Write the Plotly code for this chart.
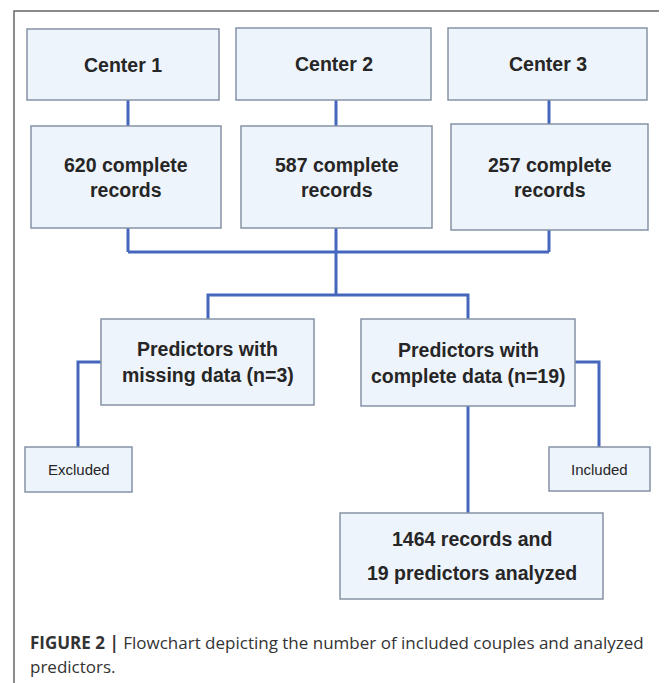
import plotly.graph_objects as go

# ---- content ----
center_labels = ["Center 1", "Center 2", "Center 3"]
record_counts = [620, 587, 257]
missing_n = 3
complete_n = 19
total_records = sum(record_counts)  # 1464
excluded_label = "Excluded"
included_label = "Included"
caption_bold = "FIGURE 2 |"
caption_line1 = " Flowchart depicting the number of included couples and analyzed"
caption_line2 = "predictors."

# ---- layout geometry (window pixels) ----
W, H = 667, 683
OFF = 8  # default page body margin
center_boxes = [(27, 29, 219, 100), (236, 28, 431, 100), (448, 28, 647, 100)]
record_boxes = [(31, 126, 221, 228), (241, 126, 432, 228), (451, 124, 648, 230)]
col_x = [128, 336, 549]
missing_box = (101, 319, 314, 405)
complete_box = (361, 319, 575, 406)
excluded_box = (25, 447, 132, 492)
included_box = (549, 447, 650, 491)
final_box = (340, 513, 603, 599)

BOX_FILL = "#eef4fb"
BOX_LINE = "#8592a6"
CONN = "#4467bd"
TXT = "#262626"
BOXFONT = "Liberation Sans, Arial"

fig = go.Figure()
shapes = []
annotations = []

def line(points):
    d = "M " + " L ".join(f"{x},{y}" for x, y in points)
    shapes.append(dict(type="path", path=d, xref="x", yref="y",
                       line=dict(color=CONN, width=3), layer="below"))

def box(b):
    shapes.append(dict(type="rect", x0=b[0], y0=b[1], x1=b[2], y1=b[3],
                       xref="x", yref="y", fillcolor=BOX_FILL,
                       line=dict(color=BOX_LINE, width=1.5), layer="above"))

def text(x, y, s, size, bold=True, family=BOXFONT, anchor="center"):
    annotations.append(dict(x=x, y=y, xref="x", yref="y", showarrow=False,
                            text=(f"<b>{s}</b>" if bold else s),
                            font=dict(family=family, size=size, color=TXT),
                            xanchor=anchor, yanchor="middle"))

# connectors
for cx, cb, rb in zip(col_x, center_boxes, record_boxes):
    line([(cx, cb[3]), (cx, rb[1])])
    line([(cx, rb[3]), (cx, 252)])
line([(col_x[0], 252), (col_x[2], 252)])
line([(col_x[1], 252), (col_x[1], 295)])
line([(208, 319), (208, 295), (468, 295), (468, 319)])
line([(missing_box[0], 362), (78, 362), (78, excluded_box[1])])
line([(complete_box[2], 362), (599, 362), (599, included_box[1])])
line([(468, complete_box[3]), (468, final_box[1])])

# boxes
for b in center_boxes + record_boxes + [missing_box, complete_box, excluded_box, included_box, final_box]:
    box(b)

def cx_(b): return (b[0] + b[2]) / 2
def cy_(b): return (b[1] + b[3]) / 2

FS = 19.5
for lab, b in zip(center_labels, center_boxes):
    text(cx_(b), cy_(b), lab, FS)
for n, b in zip(record_counts, record_boxes):
    text(cx_(b), cy_(b) - 12.5, f"{n} complete", FS)
    text(cx_(b), cy_(b) + 12.5, "records", FS)

text(cx_(missing_box), cy_(missing_box) - 13, "Predictors with", FS)
text(cx_(missing_box), cy_(missing_box) + 13, f"missing data (n={missing_n})", FS)
text(cx_(complete_box), cy_(complete_box) - 13, "Predictors with", FS)
text(cx_(complete_box), cy_(complete_box) + 13, f"complete data (n={complete_n})", FS)

text(cx_(excluded_box), cy_(excluded_box), excluded_label, 15, bold=False)
text(cx_(included_box), cy_(included_box), included_label, 15, bold=False)

text(cx_(final_box), cy_(final_box) - 17, f"{total_records} records and", FS)
text(cx_(final_box), cy_(final_box) + 17, f"{complete_n} predictors analyzed", FS)

# caption
CAP = "Open Sans, Liberation Sans, Arial"
annotations.append(dict(x=28, y=642, xref="x", yref="y", showarrow=False,
                        text=f"<b>{caption_bold}</b>{caption_line1}",
                        font=dict(family=CAP, size=17, color="#333333"),
                        xanchor="left", yanchor="middle"))
annotations.append(dict(x=28, y=666, xref="x", yref="y", showarrow=False,
                        text=caption_line2,
                        font=dict(family=CAP, size=17, color="#333333"),
                        xanchor="left", yanchor="middle"))

# outer frame (left and top)
shapes.append(dict(type="path", path=f"M 14,{H} L 14,11 L {W},11", xref="x", yref="y",
                   line=dict(color="#666666", width=1.5), layer="below"))

fig.update_layout(
    width=W - OFF, height=H - OFF, margin=dict(l=0, r=0, t=0, b=0),
    paper_bgcolor="white", plot_bgcolor="white",
    xaxis=dict(range=[OFF, W], visible=False, fixedrange=True),
    yaxis=dict(range=[H, OFF], visible=False, fixedrange=True),
    shapes=shapes, annotations=annotations, showlegend=False,
)
fig.write_html("out.html")
